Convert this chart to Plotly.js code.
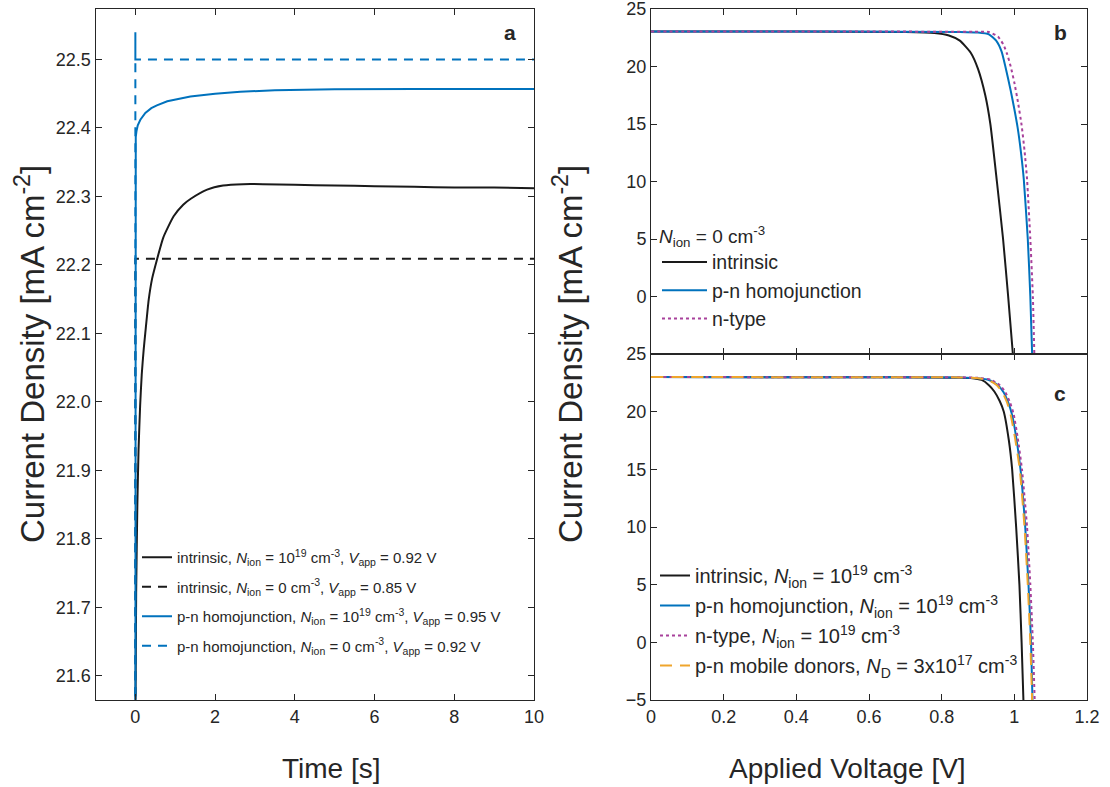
<!DOCTYPE html>
<html>
<head>
<meta charset="utf-8">
<script src="https://cdn.plot.ly/plotly-3.0.1.min.js"></script>
<style>html,body{margin:0;padding:0;background:#fff;}#chart{width:1110px;height:787px;}</style>
</head>
<body>
<div id="chart"></div>
<script>
// ---------- Panel a: current density vs time ----------
const tIntrinsicIon = [0.005, 0.02, 0.05, 0.08, 0.12, 0.16, 0.208, 0.25, 0.334, 0.42, 0.543, 0.7, 0.96, 1.2, 1.4, 1.8, 2.2, 2.7, 3.2, 4, 5, 6, 7, 8, 9, 10];
const jIntrinsicIon = [21.565, 21.72, 21.85, 21.93, 21.995, 22.04, 22.076, 22.101, 22.149, 22.18, 22.208, 22.24, 22.271, 22.288, 22.297, 22.31, 22.316, 22.318, 22.318, 22.317, 22.316, 22.315, 22.314, 22.313, 22.313, 22.312];
const tIntrinsicNoIon = [0, 0, 10];
const jIntrinsicNoIon = [21.5, 22.209, 22.209];
const tPnIon = [0, 0, 0.01, 0.03, 0.06, 0.125, 0.25, 0.4, 0.54, 0.8, 1.1, 1.38, 2, 2.63, 3.5, 5, 7, 10];
const jPnIon = [21.5, 22.375, 22.387, 22.396, 22.404, 22.412, 22.422, 22.429, 22.433, 22.439, 22.443, 22.446, 22.450, 22.453, 22.455, 22.4565, 22.457, 22.457];
const tPnNoIon = [0, 0, 0, 10];
const jPnNoIon = [21.5, 22.54, 22.5, 22.5];

// ---------- Panel b: J-V, N_ion = 0 ----------
const vB_intr = [0, 0.4, 0.7, 0.78, 0.82, 0.85, 0.88, 0.9, 0.92, 0.934, 0.952, 0.969, 0.983, 0.996];
const jB_intr = [23.05, 23.04, 23.0, 22.92, 22.7, 22.25, 21.2, 19.8, 17.5, 15.0, 10.0, 5.0, 0.0, -5.0];
const vB_pn = [0, 0.5, 0.85, 0.9, 0.93, 0.95, 0.965, 0.975, 0.99, 1.0, 1.009, 1.018, 1.026, 1.037, 1.044, 1.049];
const jB_pn = [23.05, 23.04, 23.0, 22.95, 22.8, 22.25, 21.3, 20.05, 17.9, 16.3, 14.7, 12.6, 10.2, 5.0, 0.0, -5.0];
const vB_n = [0, 0.5, 0.9, 0.93, 0.955, 0.97, 0.98, 0.99, 1.0, 1.01, 1.02, 1.028, 1.035, 1.044, 1.051, 1.055];
const jB_n = [23.05, 23.04, 23.02, 23.0, 22.6, 21.9, 21.1, 20.0, 18.6, 16.9, 14.9, 12.7, 10.2, 5.0, 0.0, -5.0];

// ---------- Panel c: J-V, N_ion = 1e19 ----------
const vC_intr = [0, 0.5, 0.85, 0.88, 0.91, 0.93, 0.945, 0.96, 0.971, 0.985, 0.994, 1.005, 1.014, 1.02, 1.025];
const jC_intr = [23.0, 22.99, 22.95, 22.92, 22.75, 22.3, 21.75, 20.9, 20.0, 17.5, 15.0, 10.0, 5.0, 0.0, -5.0];
const vC_pn = [0, 0.5, 0.85, 0.9, 0.93, 0.955, 0.97, 0.983, 0.994, 1.005, 1.017, 1.03, 1.039, 1.046, 1.05];
const jC_pn = [23.0, 22.99, 22.97, 22.9, 22.75, 22.3, 21.7, 20.8, 19.7, 17.8, 15.0, 10.0, 5.0, 0.0, -5.0];
const vC_n = [0, 0.5, 0.85, 0.9, 0.935, 0.96, 0.975, 0.988, 0.998, 1.009, 1.021, 1.035, 1.044, 1.051, 1.056];
const jC_n = [23.0, 22.99, 22.98, 22.93, 22.78, 22.3, 21.7, 20.8, 19.8, 17.8, 15.0, 10.0, 5.0, 0.0, -5.0];
const vC_mob = [0, 0.5, 0.85, 0.9, 0.93, 0.952, 0.967, 0.98, 0.99, 1.002, 1.015, 1.028, 1.037, 1.044, 1.049];
const jC_mob = [23.0, 22.99, 22.97, 22.9, 22.72, 22.3, 21.7, 20.8, 19.7, 17.7, 15.0, 10.0, 5.0, 0.0, -5.0];

const tickA_x = [0, 2, 4, 6, 8, 10];
const tickA_y = [21.6, 21.7, 21.8, 21.9, 22.0, 22.1, 22.2, 22.3, 22.4, 22.5];
const tickB_y = [0, 5, 10, 15, 20, 25];
const tickC_y = [-5, 0, 5, 10, 15, 20, 25];
const tickV = [0, 0.2, 0.4, 0.6, 0.8, 1, 1.2];

const BLACK = '#1a1a1a', BLUE = '#0072BD', MAG = '#A8419B', ORANGE = '#EFA52C';
const FONT = 'Liberation Sans, Arial, Helvetica, sans-serif';
const AX = '#262626';

const traces = [
  {x: tIntrinsicIon, y: jIntrinsicIon, xaxis: 'x', yaxis: 'y', mode: 'lines', line: {color: BLACK, width: 2, shape: 'spline', smoothing: 0.5},
   name: 'intrinsic, <i>N</i><sub>ion</sub> = 10<sup>19</sup> cm<sup>-3</sup>, <i>V</i><sub>app</sub> = 0.92 V', legend: 'legend', legendgroup: 'a1'},
  {x: tIntrinsicNoIon, y: jIntrinsicNoIon, xaxis: 'x', yaxis: 'y', mode: 'lines', line: {color: BLACK, width: 2, dash: '9px,7px'},
   name: 'intrinsic, <i>N</i><sub>ion</sub> = 0 cm<sup>-3</sup>, <i>V</i><sub>app</sub> = 0.85 V', legend: 'legend', legendgroup: 'a2'},
  {x: tPnIon, y: jPnIon, xaxis: 'x', yaxis: 'y', mode: 'lines', line: {color: BLUE, width: 2},
   name: 'p-n homojunction, <i>N</i><sub>ion</sub> = 10<sup>19</sup> cm<sup>-3</sup>, <i>V</i><sub>app</sub> = 0.95 V', legend: 'legend', legendgroup: 'a3'},
  {x: tPnNoIon, y: jPnNoIon, xaxis: 'x', yaxis: 'y', mode: 'lines', line: {color: BLUE, width: 2, dash: '9px,7px'},
   name: 'p-n homojunction, <i>N</i><sub>ion</sub> = 0 cm<sup>-3</sup>, <i>V</i><sub>app</sub> = 0.92 V', legend: 'legend', legendgroup: 'a4'},

  {x: vB_intr, y: jB_intr, xaxis: 'x2', yaxis: 'y2', mode: 'lines', line: {color: BLACK, width: 2, shape: 'spline', smoothing: 0.5},
   name: 'intrinsic', legend: 'legend2'},
  {x: vB_pn, y: jB_pn, xaxis: 'x2', yaxis: 'y2', mode: 'lines', line: {color: BLUE, width: 2, shape: 'spline', smoothing: 0.5},
   name: 'p-n homojunction', legend: 'legend2'},
  {x: vB_n, y: jB_n, xaxis: 'x2', yaxis: 'y2', mode: 'lines', line: {color: MAG, width: 2, dash: 'dot', shape: 'spline', smoothing: 0.5},
   name: 'n-type', legend: 'legend2'},

  {x: vC_intr, y: jC_intr, xaxis: 'x3', yaxis: 'y3', mode: 'lines', line: {color: BLACK, width: 2, shape: 'spline', smoothing: 0.5},
   name: 'intrinsic, <i>N</i><sub>ion</sub> = 10<sup>19</sup> cm<sup>-3</sup>', legend: 'legend3', legendgroup: 'c1'},
  {x: vC_pn, y: jC_pn, xaxis: 'x3', yaxis: 'y3', mode: 'lines', line: {color: BLUE, width: 2, shape: 'spline', smoothing: 0.5},
   name: 'p-n homojunction, <i>N</i><sub>ion</sub> = 10<sup>19</sup> cm<sup>-3</sup>', legend: 'legend3', legendgroup: 'c2'},
  {x: vC_n, y: jC_n, xaxis: 'x3', yaxis: 'y3', mode: 'lines', line: {color: MAG, width: 2, dash: 'dot', shape: 'spline', smoothing: 0.5},
   name: 'n-type, <i>N</i><sub>ion</sub> = 10<sup>19</sup> cm<sup>-3</sup>', legend: 'legend3', legendgroup: 'c3'},
  {x: vC_mob, y: jC_mob, xaxis: 'x3', yaxis: 'y3', mode: 'lines', line: {color: ORANGE, width: 2, dash: '12px,8px', shape: 'spline', smoothing: 0.5},
   name: 'p-n mobile donors, <i>N</i><sub>D</sub> = 3x10<sup>17</sup> cm<sup>-3</sup>', legend: 'legend3', legendgroup: 'c4'}
];

function axisBase(extra) {
  return Object.assign({
    showline: true, linecolor: AX, linewidth: 1, mirror: 'ticks',
    ticks: 'inside', ticklen: 6, tickwidth: 1, tickcolor: AX,
    showgrid: false, zeroline: false, ticklabeloverflow: 'allow',
    tickfont: {family: FONT, size: 18, color: AX}
  }, extra);
}

function ann(text, x, y, size, extra) {
  return Object.assign({text: text, xref: 'paper', yref: 'paper', x: x/1110, y: 1 - y/787,
    xanchor: 'center', yanchor: 'middle', showarrow: false, font: {family: FONT, size: size, color: AX}}, extra || {});
}

const layout = {
  width: 1110, height: 787,
  margin: {l: 0, r: 0, t: 0, b: 0},
  paper_bgcolor: '#fff', plot_bgcolor: '#fff',
  font: {family: FONT, color: AX},
  xaxis: axisBase({domain: [95.5/1110, 534/1110], anchor: 'y', range: [-1, 10], tickvals: tickA_x}),
  yaxis: axisBase({domain: [1-700/787, 1-9/787], anchor: 'x', range: [21.5645, 22.5738], tickvals: tickA_y, tickformat: '.1f'}),
  xaxis2: axisBase({domain: [651/1110, 1087/1110], anchor: 'y2', range: [0, 1.2], tickvals: tickV, showticklabels: false}),
  yaxis2: axisBase({domain: [1-354/787, 1-9/787], anchor: 'x2', range: [-5, 25], tickvals: tickB_y}),
  xaxis3: axisBase({domain: [651/1110, 1087/1110], anchor: 'y3', range: [0, 1.2], tickvals: tickV}),
  yaxis3: axisBase({domain: [1-700/787, 1-354/787], anchor: 'x3', range: [-5, 25], tickvals: tickC_y}),
  legend: {x: 137/1110, y: 1-541/787, xanchor: 'left', yanchor: 'top', bgcolor: 'rgba(0,0,0,0)',
           font: {family: FONT, size: 15, color: AX}, traceorder: 'grouped', tracegroupgap: 7},
  legend2: {x: 657/1110, y: 1-218/787, xanchor: 'left', yanchor: 'top', bgcolor: 'rgba(0,0,0,0)',
            font: {family: FONT, size: 19.5, color: AX}, itemwidth: 45,
            title: {text: '<i>N</i><sub>ion</sub> = 0 cm<sup>-3</sup>', font: {family: FONT, size: 19, color: AX}}},
  legend3: {x: 655/1110, y: 1-556/787, xanchor: 'left', yanchor: 'top', bgcolor: 'rgba(0,0,0,0)',
            font: {family: FONT, size: 20, color: AX}, traceorder: 'grouped', tracegroupgap: 1},
  annotations: [
    ann('Time [s]', 331, 768, 28),
    ann('Applied Voltage [V]', 847, 768, 28),
    ann('Current Density [mA cm<sup>-2</sup>]', 30, 354, 33, {textangle: -90}),
    ann('Current Density [mA cm<sup>-2</sup>]', 568, 354, 33, {textangle: -90}),
    ann('<b>a</b>', 510, 33, 21),
    ann('<b>b</b>', 1060, 33, 21),
    ann('<b>c</b>', 1060, 393, 21)
  ]
};

Plotly.newPlot('chart', traces, layout, {displayModeBar: false, staticPlot: true});
</script>
</body>
</html>
